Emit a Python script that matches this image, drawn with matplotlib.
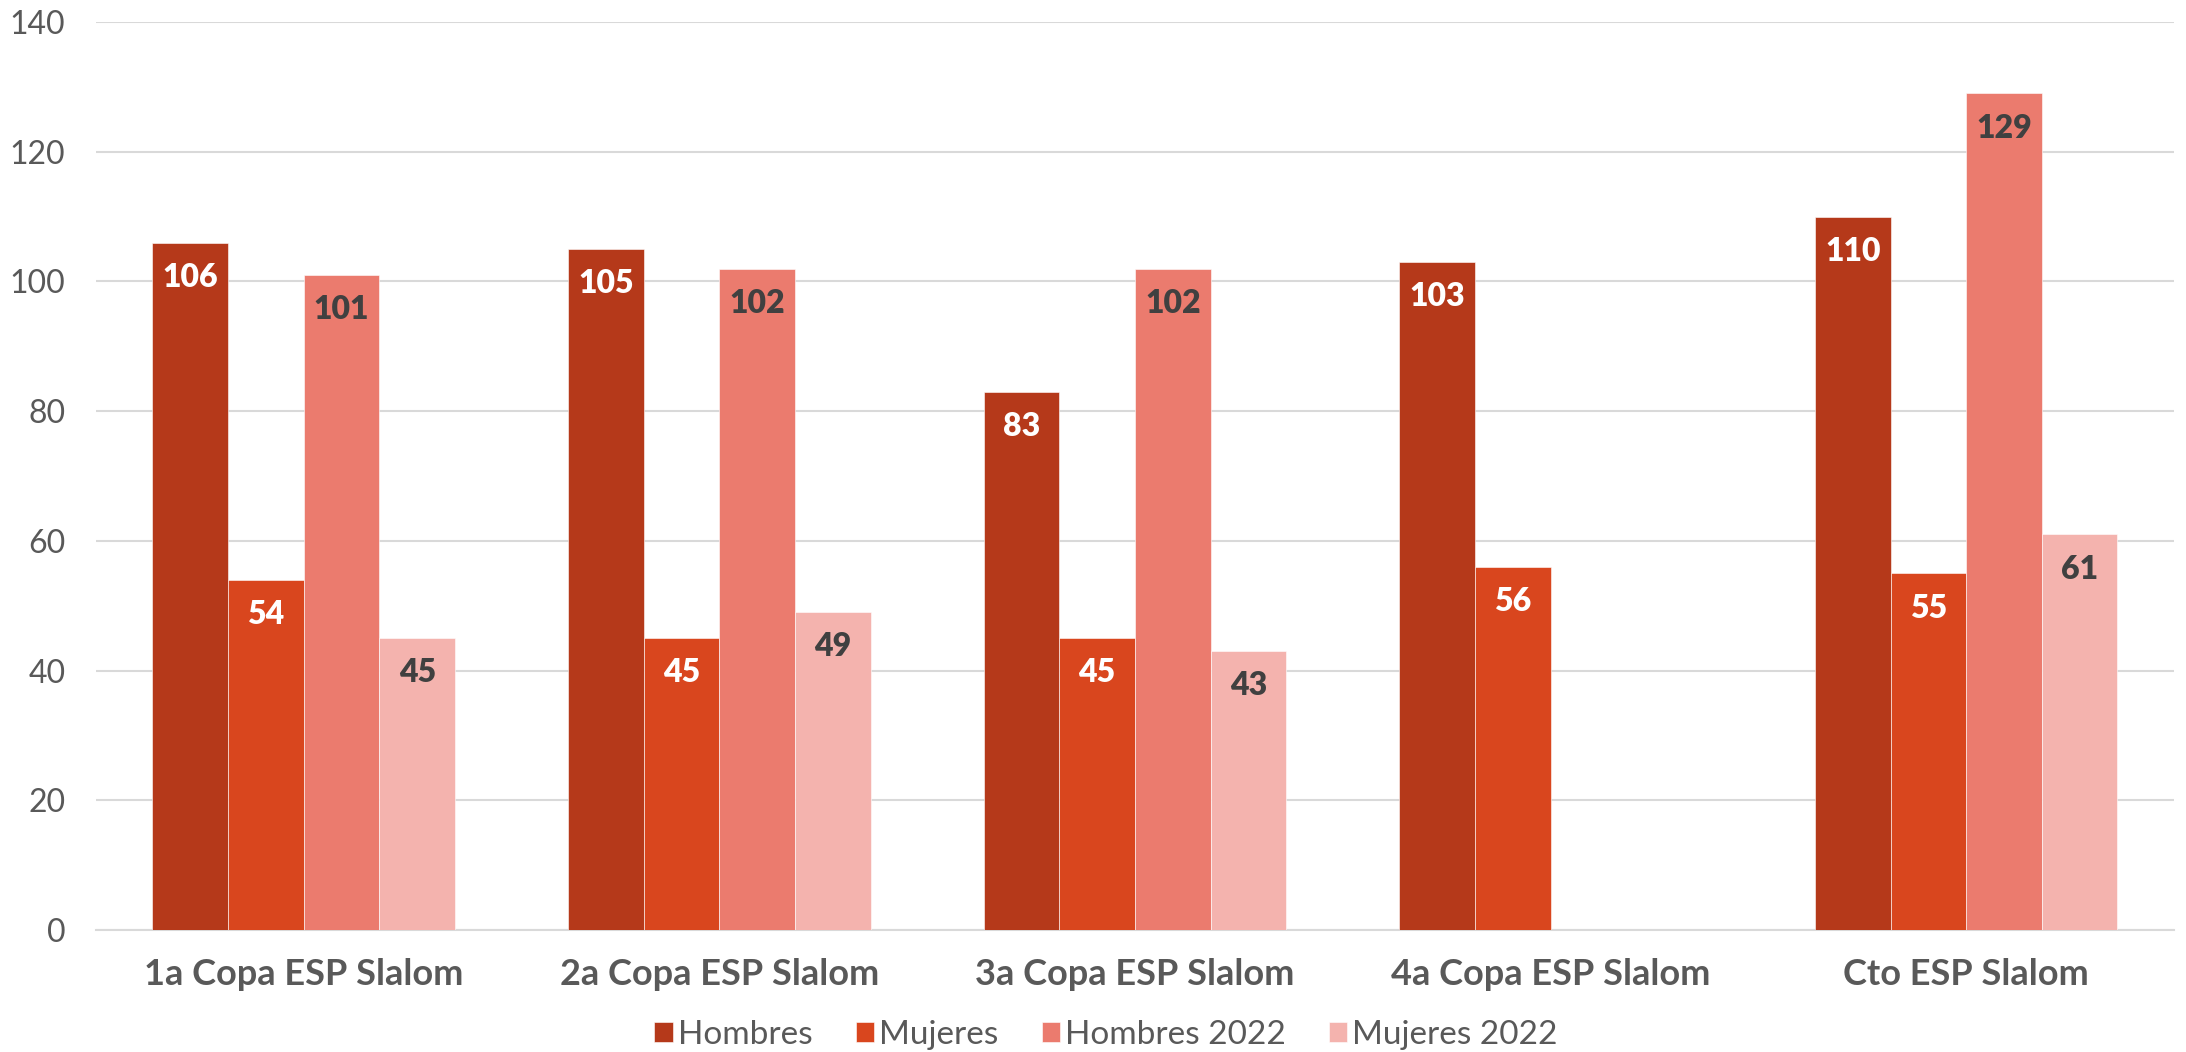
import numpy as np
import matplotlib
matplotlib.use('Agg')
import matplotlib.pyplot as plt

# datos
categorias = ['1a Copa ESP Slalom', '2a Copa ESP Slalom', '3a Copa ESP Slalom',
              '4a Copa ESP Slalom', 'Cto ESP Slalom']
hombres = [106, 105, 83, 103, 110]
mujeres = [54, 45, 45, 56, 55]
hombres_2022 = [101, 102, 102, np.nan, 129]
mujeres_2022 = [45, 49, 43, np.nan, 61]
series_nombres = ['Hombres', 'Mujeres', 'Hombres 2022', 'Mujeres 2022']
y_ticks = [0, 20, 40, 60, 80, 100, 120, 140]

colores = ['#B5391A', '#D9461E', '#EB7B6E', '#F4B3AE']
color_etiq = ['white', 'white', '#404040', '#404040']

plt.rcParams['font.family'] = ['Lato', 'DejaVu Sans']

fig = plt.figure(figsize=(21.86, 10.52), dpi=100)
ax = fig.add_axes([0.0439, 0.116, 0.9506, 0.863])

x = np.arange(len(categorias))
ancho = 0.182
series = [hombres, mujeres, hombres_2022, mujeres_2022]

for i, (vals, nombre) in enumerate(zip(series, series_nombres)):
    pos = x + (i - 1.5) * ancho
    bars = ax.bar(pos, vals, width=ancho, color=colores[i], label=nombre,
                  edgecolor='white', linewidth=0.4, zorder=3)
    for b, v in zip(bars, vals):
        if np.isnan(v):
            continue
        ax.annotate(f'{int(v)}', xy=(b.get_x() + b.get_width() / 2, v),
                    xytext=(0, -25), textcoords='offset points',
                    ha='center', va='center', fontsize=23, fontweight='heavy',
                    color=color_etiq[i], zorder=4)

ax.set_xlim(-0.5, len(categorias) - 0.5)
ax.set_ylim(0, 140)
ax.set_yticks(y_ticks)
ax.set_xticks(x)
ax.set_xticklabels(categorias, fontsize=26, fontweight='bold', color='#595959')
ax.tick_params(axis='y', labelsize=23, colors='#595959', length=0, pad=22)
ax.tick_params(axis='x', length=0, pad=20)

ax.grid(axis='y', color='#D9D9D9', linewidth=1.5, zorder=0)
for s in ['top', 'right', 'left']:
    ax.spines[s].set_visible(False)
ax.spines['bottom'].set_color('#D9D9D9')
ax.spines['bottom'].set_linewidth(1.5)

leg = fig.legend(loc='center', bbox_to_anchor=(0.506, 0.016), ncol=4, frameon=False,
                 fontsize=24, handlelength=0.55, handleheight=0.55, handletextpad=0.15,
                 columnspacing=1.3, borderpad=0, borderaxespad=0)
for t in leg.get_texts():
    t.set_color('#595959')

fig.savefig('out.png', dpi=100)
